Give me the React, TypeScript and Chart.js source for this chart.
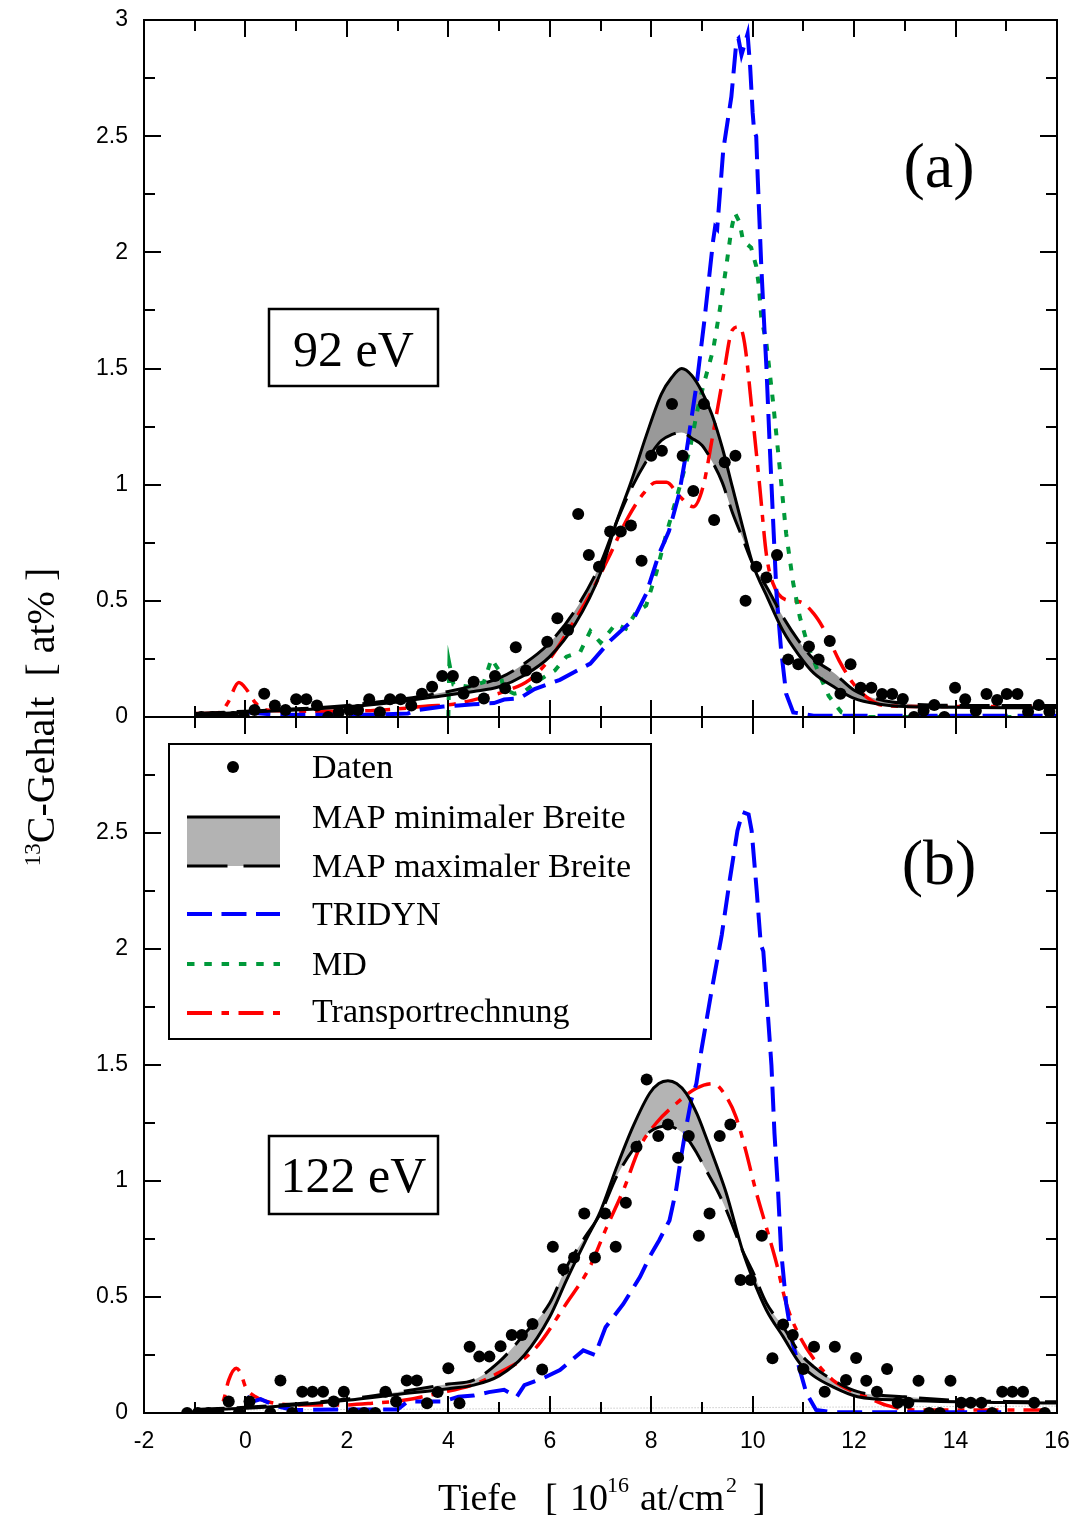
import React, { useEffect, useRef } from 'react';
import { Chart, registerables } from 'chart.js';

Chart.register(...registerables);

// ---------------- axis ticks ----------------
const xTickLabels = [-2, 0, 2, 4, 6, 8, 10, 12, 14, 16];
const xMinorTicks = [-1, 1, 3, 5, 7, 9, 11, 13, 15];
const yTickLabelsTop = [0, 0.5, 1, 1.5, 2, 2.5, 3];
const yTickLabelsBottom = [0, 0.5, 1, 1.5, 2, 2.5];
const yMajorTicks = [0.5, 1, 1.5, 2, 2.5];
const yMinorTicks = [0.25, 0.75, 1.25, 1.75, 2.25, 2.75];

// ---------------- panel (a): 92 eV ----------------
const topDatenX = [-0.87, -0.65, -0.44, -0.24, -0.03, 0.18, 0.37, 0.58, 0.79, 1.0, 1.2, 1.41, 1.63, 1.84, 2.05, 2.22, 2.44, 2.65, 2.85, 3.06, 3.27, 3.48, 3.68, 3.88, 4.09, 4.3, 4.5, 4.7, 4.92, 5.12, 5.33, 5.53, 5.74, 5.95, 6.15, 6.36, 6.56, 6.77, 6.97, 7.19, 7.4, 7.6, 7.81, 8.0, 8.21, 8.41, 8.62, 8.83, 9.04, 9.24, 9.45, 9.66, 9.86, 10.07, 10.27, 10.48, 10.7, 10.9, 11.11, 11.3, 11.52, 11.73, 11.93, 12.13, 12.34, 12.55, 12.75, 12.96, 13.18, 13.37, 13.58, 13.78, 13.99, 14.19, 14.4, 14.61, 14.82, 15.01, 15.22, 15.43, 15.64, 15.85];
const topDatenY = [0, 0, 0, 0, 0, 0.03, 0.1, 0.05, 0.03, 0.076, 0.076, 0.05, 0, 0.02, 0.03, 0.03, 0.076, 0.02, 0.076, 0.076, 0.05, 0.1, 0.13, 0.176, 0.176, 0.1, 0.152, 0.08, 0.176, 0.124, 0.3, 0.2, 0.17, 0.324, 0.425, 0.374, 0.874, 0.697, 0.647, 0.798, 0.798, 0.824, 0.673, 1.124, 1.146, 1.347, 1.124, 0.973, 1.347, 0.848, 1.096, 1.124, 0.5, 0.647, 0.6, 0.697, 0.248, 0.227, 0.303, 0.248, 0.327, 0.1, 0.227, 0.126, 0.126, 0.099, 0.099, 0.077, 0, 0.027, 0.052, 0, 0.126, 0.076, 0.027, 0.099, 0.073, 0.099, 0.099, 0.023, 0.052, 0.023];

const topMapX = [-1, 0, 1, 2, 3, 4, 4.5, 5, 5.5, 6, 6.5, 7, 7.3, 7.6, 7.9, 8.2, 8.4, 8.6, 8.8, 9.0, 9.2, 9.4, 9.6, 9.8, 10.0, 10.3, 10.6, 10.9, 11.2, 11.6, 12.0, 12.5, 13, 14, 15, 16];
const topMapMinY = [0.01, 0.02, 0.03, 0.044, 0.065, 0.095, 0.11, 0.13, 0.18, 0.26, 0.4, 0.62, 0.83, 1.01, 1.21, 1.39, 1.46, 1.5, 1.47, 1.4, 1.3, 1.16, 0.99, 0.82, 0.66, 0.51, 0.37, 0.27, 0.19, 0.13, 0.08, 0.055, 0.045, 0.042, 0.04, 0.04];
const topMapMaxY = [0.015, 0.025, 0.035, 0.05, 0.075, 0.11, 0.135, 0.167, 0.23, 0.32, 0.46, 0.66, 0.83, 0.98, 1.1, 1.19, 1.215, 1.225, 1.2, 1.17, 1.1, 1.01, 0.88, 0.77, 0.66, 0.55, 0.43, 0.33, 0.25, 0.19, 0.115, 0.075, 0.058, 0.05, 0.05, 0.05];

const topTridynX = [0.0, 0.3, 0.6, 1.5, 2.5, 3.2, 3.4, 3.9, 4.2, 4.5, 4.9, 5.1, 5.4, 5.7, 6.2, 6.8, 7.2, 7.65, 7.9, 8.15, 8.35, 8.55, 8.7, 8.9, 9.05, 9.22, 9.26, 9.3, 9.42, 9.58, 9.68, 9.72, 9.78, 9.9, 9.95, 10.0, 10.03, 10.07, 10.1, 10.17, 10.22, 10.27, 10.33, 10.4, 10.47, 10.56, 10.66, 10.8, 11.2, 16];
const topTridynY = [0.02, 0.015, 0.01, 0.01, 0.01, 0.015, 0.03, 0.045, 0.05, 0.055, 0.06, 0.075, 0.08, 0.12, 0.16, 0.23, 0.33, 0.42, 0.53, 0.7, 0.8, 0.96, 1.15, 1.44, 1.71, 2.05, 2.11, 2.1, 2.44, 2.67, 2.91, 2.92, 2.85, 2.94, 2.8, 2.6, 2.52, 2.5, 2.32, 1.94, 1.72, 1.51, 1.2, 0.86, 0.53, 0.29, 0.1, 0.02, 0.005, 0.005];

const topMdX = [4.0, 4.02, 4.1, 4.4, 4.7, 4.85, 5.0, 5.1, 5.3, 5.5, 5.8, 6.1, 6.33, 6.6, 6.8, 7.0, 7.3, 7.5, 7.7, 7.9, 8.1, 8.3, 8.56, 8.76, 8.9, 9.02, 9.22, 9.35, 9.48, 9.58, 9.65, 9.74, 9.81, 9.97, 10.07, 10.12, 10.17, 10.27, 10.4, 10.53, 10.66, 10.8, 10.93, 11.1, 11.3, 11.5, 11.75, 12.0, 15.5];
const topMdY = [0.0, 0.23, 0.14, 0.13, 0.15, 0.25, 0.2, 0.12, 0.1, 0.11, 0.16, 0.2, 0.26, 0.28, 0.37, 0.32, 0.4, 0.38, 0.45, 0.48, 0.62, 0.79, 0.99, 1.15, 1.31, 1.42, 1.58, 1.75, 1.94, 2.1, 2.17, 2.13, 2.05, 2.02, 1.94, 1.86, 1.72, 1.61, 1.36, 1.08, 0.79, 0.575, 0.43, 0.3, 0.19, 0.09, 0.02, 0.0, 0.0];

const topTransX = [-1.0, -0.5, -0.35, -0.13, 0.03, 0.2, 0.42, 1.0, 2.0, 3.0, 3.6, 4.1, 4.7, 5.15, 5.6, 6.0, 6.33, 6.8, 7.19, 7.52, 7.84, 8.1, 8.3, 8.56, 8.83, 9.02, 9.22, 9.42, 9.6, 9.74, 9.84, 10.0, 10.14, 10.27, 10.4, 10.66, 10.93, 11.2, 11.45, 11.7, 11.98, 12.24, 12.57, 13.5, 16];
const topTransY = [0.015, 0.02, 0.06, 0.148, 0.116, 0.06, 0.03, 0.025, 0.025, 0.035, 0.047, 0.055, 0.085, 0.113, 0.16, 0.25, 0.36, 0.53, 0.7, 0.85, 0.96, 1.01, 1.01, 0.95, 0.905, 0.99, 1.22, 1.465, 1.666, 1.68, 1.61, 1.29, 0.99, 0.7, 0.575, 0.504, 0.496, 0.446, 0.36, 0.245, 0.145, 0.087, 0.05, 0.045, 0.045];

// ---------------- panel (b): 122 eV ----------------
const botDatenX = [-1.15, -0.94, -0.73, -0.53, -0.33, -0.13, 0.08, 0.49, 0.69, 0.92, 1.12, 1.32, 1.53, 1.74, 1.94, 2.13, 2.34, 2.56, 2.76, 2.97, 3.18, 3.38, 3.58, 3.79, 4.0, 4.22, 4.42, 4.61, 4.81, 5.03, 5.25, 5.45, 5.66, 5.85, 6.06, 6.27, 6.48, 6.68, 6.89, 7.09, 7.3, 7.5, 7.71, 7.91, 8.14, 8.33, 8.53, 8.74, 8.94, 9.15, 9.35, 9.56, 9.76, 9.96, 10.18, 10.39, 10.6, 10.79, 11.0, 11.21, 11.42, 11.62, 11.84, 12.04, 12.24, 12.45, 12.65, 12.86, 13.07, 13.27, 13.48, 13.69, 13.9, 14.11, 14.3, 14.51, 14.72, 14.92, 15.12, 15.33, 15.55, 15.76];
const botDatenY = [0, 0, 0, 0, 0.05, 0, 0.05, 0, 0.14, 0, 0.092, 0.092, 0.092, 0.05, 0.092, 0, 0, 0, 0.092, 0.05, 0.14, 0.14, 0.042, 0.09, 0.193, 0.042, 0.286, 0.243, 0.243, 0.288, 0.336, 0.336, 0.384, 0.188, 0.717, 0.62, 0.67, 0.86, 0.67, 0.86, 0.717, 0.906, 1.148, 1.438, 1.194, 1.244, 1.1, 1.194, 0.764, 0.86, 1.194, 1.244, 0.573, 0.573, 0.764, 0.236, 0.382, 0.336, 0.19, 0.286, 0.092, 0.286, 0.142, 0.237, 0.139, 0.092, 0.19, 0.044, 0.044, 0.139, 0, 0, 0.139, 0.044, 0.044, 0.044, 0, 0.092, 0.092, 0.092, 0.044, 0];

const botMapX = [-1, 0, 1, 2, 3, 4, 4.5, 5, 5.5, 6, 6.33, 6.7, 7.0, 7.32, 7.64, 7.97, 8.15, 8.33, 8.5, 8.69, 8.9, 9.08, 9.3, 9.48, 9.8, 10.0, 10.27, 10.6, 10.93, 11.2, 11.58, 12.07, 13, 14, 15, 16];
const botMapMinY = [0.012, 0.02, 0.035, 0.055, 0.08, 0.105, 0.12, 0.16, 0.25, 0.415, 0.573, 0.74, 0.87, 1.06, 1.234, 1.378, 1.42, 1.432, 1.42, 1.378, 1.29, 1.19, 1.06, 0.947, 0.7, 0.58, 0.444, 0.329, 0.214, 0.16, 0.113, 0.07, 0.055, 0.048, 0.045, 0.043];
const botMapMaxY = [0.015, 0.025, 0.04, 0.06, 0.09, 0.125, 0.142, 0.22, 0.34, 0.474, 0.63, 0.76, 0.86, 1.02, 1.134, 1.212, 1.232, 1.237, 1.225, 1.19, 1.12, 1.047, 0.96, 0.875, 0.7, 0.61, 0.474, 0.372, 0.258, 0.2, 0.142, 0.092, 0.07, 0.055, 0.05, 0.048];

const botTridynX = [0.03, 0.16, 0.3, 0.6, 0.93, 2.0, 3.0, 3.2, 3.9, 4.2, 4.5, 4.8, 5.1, 5.35, 5.5, 5.87, 6.2, 6.66, 6.89, 7.1, 7.45, 7.78, 7.97, 8.16, 8.36, 8.49, 8.59, 8.69, 8.79, 8.89, 8.99, 9.19, 9.39, 9.55, 9.7, 9.8, 9.92, 9.98, 10.08, 10.16, 10.21, 10.28, 10.37, 10.43, 10.5, 10.56, 10.66, 10.79, 10.93, 11.06, 11.25, 11.6, 14.9];
const botTridynY = [0.07, 0.05, 0.06, 0.03, 0.013, 0.015, 0.015, 0.05, 0.05, 0.07, 0.075, 0.09, 0.1, 0.07, 0.12, 0.15, 0.185, 0.27, 0.25, 0.37, 0.47, 0.587, 0.674, 0.746, 0.83, 0.96, 1.105, 1.234, 1.35, 1.42, 1.565, 1.82, 2.06, 2.3, 2.51, 2.59, 2.58, 2.51, 2.25, 2.02, 1.99, 1.78, 1.5, 1.205, 0.96, 0.7, 0.473, 0.3, 0.185, 0.085, 0.013, 0.003, 0.003];

const botTransX = [-1.0, -0.53, -0.43, -0.33, -0.18, -0.09, 0.0, 0.2, 0.53, 1.18, 1.84, 2.5, 3.15, 3.8, 4.47, 4.96, 5.68, 6.33, 6.79, 7.12, 7.45, 7.78, 8.1, 8.5, 8.89, 9.22, 9.48, 9.67, 9.86, 10.06, 10.27, 10.47, 10.66, 10.93, 11.25, 11.58, 11.98, 12.24, 12.63, 13.2, 16];
const botTransY = [0.006, 0.013, 0.056, 0.142, 0.193, 0.17, 0.113, 0.07, 0.044, 0.034, 0.034, 0.042, 0.056, 0.085, 0.12, 0.17, 0.27, 0.473, 0.63, 0.8, 0.96, 1.148, 1.25, 1.335, 1.4, 1.42, 1.363, 1.277, 1.134, 0.96, 0.8, 0.645, 0.473, 0.329, 0.22, 0.142, 0.092, 0.07, 0.034, 0.013, 0.013];

const botBaselineX = [-1.2, 16];
const botBaselineY = [0.012, 0.03];

// ---------------- styles ----------------
const PAGE_W = 1076;
const PAGE_H = 1520;
const MID_Y = 717;
const TOP_Y = 20;
const BOT_Y = 1413;
const LEFT_X = 144;
const RIGHT_PAD = 19;
const BLUE = '#0000ff';
const GREEN = '#00993a';
const RED = '#ff0000';
const SERIF = '"Liberation Serif", "Times New Roman", serif';
const SANS = '"Liberation Sans", Arial, sans-serif';

const pts = (xs: number[], ys: number[]) => xs.map((x, i) => ({ x, y: ys[i] }));

function drawFrame(chart: any) {
  const { ctx, chartArea: ca, scales } = chart;
  const xs = scales.x;
  const ys = scales.y;
  ctx.save();
  ctx.strokeStyle = '#000';
  ctx.lineWidth = 2;
  ctx.setLineDash([]);
  ctx.strokeRect(ca.left, ca.top, ca.right - ca.left, ca.bottom - ca.top);
  ctx.beginPath();
  const xt = (v: number, len: number) => {
    const p = Math.round(xs.getPixelForValue(v));
    ctx.moveTo(p, ca.bottom);
    ctx.lineTo(p, ca.bottom - len);
    ctx.moveTo(p, ca.top);
    ctx.lineTo(p, ca.top + len);
  };
  const yt = (v: number, len: number) => {
    const p = Math.round(ys.getPixelForValue(v));
    ctx.moveTo(ca.left, p);
    ctx.lineTo(ca.left + len, p);
    ctx.moveTo(ca.right, p);
    ctx.lineTo(ca.right - len, p);
  };
  xTickLabels.slice(1, -1).forEach((v) => xt(v, 17));
  xMinorTicks.forEach((v) => xt(v, 11));
  yMajorTicks.forEach((v) => yt(v, 17));
  yMinorTicks.forEach((v) => yt(v, 11));
  ctx.stroke();
  ctx.restore();
}

function drawLabelBox(ctx: any, text: string, x: number, y: number, w: number, h: number, baseline: number) {
  ctx.save();
  ctx.fillStyle = '#fff';
  ctx.fillRect(x, y, w, h);
  ctx.strokeStyle = '#000';
  ctx.lineWidth = 2.5;
  ctx.strokeRect(x, y, w, h);
  ctx.fillStyle = '#000';
  ctx.font = `50px ${SERIF}`;
  ctx.textAlign = 'center';
  ctx.textBaseline = 'alphabetic';
  ctx.fillText(text, x + w / 2, baseline);
  ctx.restore();
}

function drawPanelLetter(ctx: any, text: string, baseline: number) {
  ctx.save();
  ctx.fillStyle = '#000';
  ctx.font = `64px ${SERIF}`;
  ctx.textAlign = 'center';
  ctx.textBaseline = 'alphabetic';
  ctx.fillText(text, 939, baseline);
  ctx.restore();
}

function drawLegend(ctx: any) {
  ctx.save();
  ctx.fillStyle = '#fff';
  ctx.fillRect(169, 744, 482, 295);
  ctx.strokeStyle = '#000';
  ctx.lineWidth = 2;
  ctx.strokeRect(169, 744, 482, 295);
  const x0 = 187;
  const x1 = 280;
  // Daten
  ctx.fillStyle = '#000';
  ctx.beginPath();
  ctx.arc(233, 767, 6, 0, Math.PI * 2);
  ctx.fill();
  // MAP band
  ctx.fillStyle = '#b3b3b3';
  ctx.fillRect(x0, 817, x1 - x0, 49);
  ctx.lineWidth = 3;
  ctx.strokeStyle = '#000';
  ctx.setLineDash([]);
  ctx.beginPath();
  ctx.moveTo(x0, 817);
  ctx.lineTo(x1, 817);
  ctx.stroke();
  ctx.setLineDash([40.5, 16]);
  ctx.beginPath();
  ctx.moveTo(x0, 866);
  ctx.lineTo(x1, 866);
  ctx.stroke();
  // TRIDYN
  ctx.lineWidth = 4;
  ctx.strokeStyle = BLUE;
  ctx.setLineDash([25, 9.5]);
  ctx.beginPath();
  ctx.moveTo(x0, 914);
  ctx.lineTo(x1, 914);
  ctx.stroke();
  // MD
  ctx.strokeStyle = GREEN;
  ctx.setLineDash([7.5, 9.8]);
  ctx.beginPath();
  ctx.moveTo(x0, 964);
  ctx.lineTo(x1, 964);
  ctx.stroke();
  // Transport
  ctx.strokeStyle = RED;
  ctx.setLineDash([25, 9.5, 7.5, 9.5]);
  ctx.beginPath();
  ctx.moveTo(x0, 1013);
  ctx.lineTo(x1, 1013);
  ctx.stroke();
  ctx.setLineDash([]);
  // texts
  ctx.fillStyle = '#000';
  ctx.font = `34px ${SERIF}`;
  ctx.textAlign = 'left';
  ctx.textBaseline = 'alphabetic';
  const labels = ['Daten', 'MAP minimaler Breite', 'MAP maximaler Breite', 'TRIDYN', 'MD', 'Transportrechnung'];
  const bases = [778, 828, 877, 925, 975, 1022];
  labels.forEach((t, i) => ctx.fillText(t, 312, bases[i]));
  ctx.restore();
}

function drawAxisTitles(ctx: any) {
  ctx.save();
  ctx.fillStyle = '#000';
  ctx.textBaseline = 'alphabetic';
  ctx.textAlign = 'left';
  // x title
  const base = 1510;
  const sup = 1492;
  ctx.font = `38px ${SERIF}`;
  ctx.fillText('Tiefe', 438, base);
  ctx.fillText('[', 545, base);
  ctx.fillText('10', 570, base);
  ctx.fillText('at/cm', 640, base);
  ctx.fillText(']', 753, base);
  ctx.font = `22px ${SERIF}`;
  ctx.fillText('16', 607, sup);
  ctx.fillText('2', 726, sup);
  // y title (rotated)
  ctx.translate(54, 717);
  ctx.rotate(-Math.PI / 2);
  ctx.font = `23px ${SERIF}`;
  const w13 = ctx.measureText('13').width;
  ctx.font = `40px ${SERIF}`;
  const main = 'C-Gehalt  [ at% ]';
  const wMain = ctx.measureText(main).width;
  const start = -(w13 + wMain) / 2;
  ctx.fillText(main, start + w13, 0);
  ctx.font = `23px ${SERIF}`;
  ctx.fillText('13', start, -14);
  ctx.restore();
}

function makeDecor(panel: 'top' | 'bottom') {
  return {
    id: 'decor-' + panel,
    afterDraw(chart: any) {
      const ctx = chart.ctx;
      drawFrame(chart);
      if (panel === 'top') {
        drawLabelBox(ctx, '92 eV', 269, 309, 169, 77, 366);
        drawPanelLetter(ctx, '(a)', 187);
      } else {
        drawLabelBox(ctx, '122 eV', 269, 1136, 169, 78, 1192);
        drawPanelLetter(ctx, '(b)', 884);
        drawLegend(ctx);
        drawAxisTitles(ctx);
      }
    },
  };
}

function buildDatasets(panel: 'top' | 'bottom') {
  const isTop = panel === 'top';
  const ds: any[] = [
    {
      label: 'Daten',
      data: pts(isTop ? topDatenX : botDatenX, isTop ? topDatenY : botDatenY),
      showLine: false,
      pointRadius: 6,
      pointBackgroundColor: '#000',
      pointBorderWidth: 0,
      borderColor: '#000',
    },
    {
      label: 'MAP minimaler Breite',
      data: pts(isTop ? topMapX : botMapX, isTop ? topMapMinY : botMapMinY),
      borderColor: '#000',
      borderWidth: 3,
      pointRadius: 0,
      cubicInterpolationMode: 'monotone',
      fill: '+1',
      backgroundColor: isTop ? '#999999' : '#b4b4b4',
    },
    {
      label: 'MAP maximaler Breite',
      data: pts(isTop ? topMapX : botMapX, isTop ? topMapMaxY : botMapMaxY),
      borderColor: '#000',
      borderWidth: 3,
      borderDash: [30, 12],
      pointRadius: 0,
      cubicInterpolationMode: 'monotone',
      fill: false,
    },
    {
      label: 'TRIDYN',
      data: pts(isTop ? topTridynX : botTridynX, isTop ? topTridynY : botTridynY),
      borderColor: BLUE,
      borderWidth: 4,
      borderDash: [25, 10],
      pointRadius: 0,
      tension: 0,
      fill: false,
    },
  ];
  if (isTop) {
    ds.push({
      label: 'MD',
      data: pts(topMdX, topMdY),
      borderColor: GREEN,
      borderWidth: 4,
      borderDash: [7, 10],
      pointRadius: 0,
      tension: 0,
      fill: false,
    });
  }
  ds.push({
    label: 'Transportrechnung',
    data: pts(isTop ? topTransX : botTransX, isTop ? topTransY : botTransY),
    borderColor: RED,
    borderWidth: 3.5,
    borderDash: [25, 9, 7, 9],
    pointRadius: 0,
    cubicInterpolationMode: 'monotone',
    fill: false,
  });
  if (!isTop) {
    ds.push({
      label: 'baseline',
      data: pts(botBaselineX, botBaselineY),
      borderColor: '#b0b0b0',
      borderWidth: 1,
      borderDash: [1, 2],
      pointRadius: 0,
      fill: false,
    });
  }
  return ds;
}

function makeChart(canvas: HTMLCanvasElement, panel: 'top' | 'bottom') {
  const isTop = panel === 'top';
  const X_AXIS_H = isTop ? 0 : 60;
  return new Chart(canvas, {
    type: 'line',
    data: { datasets: buildDatasets(panel) },
    options: {
      responsive: false,
      animation: false,
      devicePixelRatio: 1,
      events: [],
      layout: {
        padding: isTop
          ? { left: 0, right: RIGHT_PAD, top: TOP_Y, bottom: PAGE_H - MID_Y }
          : { left: 0, right: RIGHT_PAD, top: MID_Y, bottom: PAGE_H - BOT_Y - X_AXIS_H },
      },
      scales: {
        x: {
          type: 'linear',
          min: -2,
          max: 16,
          position: 'bottom',
          display: !isTop,
          afterFit: (s: any) => {
            s.height = X_AXIS_H;
            s.paddingLeft = 0;
            s.paddingRight = 0;
            s.paddingTop = 0;
            s.paddingBottom = 0;
          },
          afterBuildTicks: (s: any) => {
            s.ticks = xTickLabels.map((v) => ({ value: v }));
          },
          ticks: {
            color: '#000',
            font: { family: SANS, size: 23 },
            padding: 15,
            maxRotation: 0,
            autoSkip: false,
            callback: (v: any) => String(v),
          },
          grid: { display: false, drawTicks: false },
          border: { display: false },
        },
        y: {
          type: 'linear',
          min: 0,
          max: 3,
          position: 'left',
          afterFit: (s: any) => {
            s.width = LEFT_X;
            s.paddingLeft = 0;
            s.paddingRight = 0;
            s.paddingTop = 0;
            s.paddingBottom = 0;
          },
          afterBuildTicks: (s: any) => {
            s.ticks = (isTop ? yTickLabelsTop : yTickLabelsBottom).map((v) => ({ value: v }));
          },
          ticks: {
            color: '#000',
            font: { family: SANS, size: 23 },
            padding: 16,
            autoSkip: false,
            callback: (v: any) => String(v),
          },
          grid: { display: false, drawTicks: false },
          border: { display: false },
        },
      },
      plugins: {
        legend: { display: false },
        tooltip: { enabled: false },
        filler: { drawTime: 'beforeDatasetsDraw' },
      } as any,
    },
    plugins: [makeDecor(panel)],
  } as any);
}

export default function App() {
  const topRef = useRef<HTMLCanvasElement | null>(null);
  const botRef = useRef<HTMLCanvasElement | null>(null);

  useEffect(() => {
    const c1 = makeChart(topRef.current as HTMLCanvasElement, 'top');
    const c2 = makeChart(botRef.current as HTMLCanvasElement, 'bottom');
    return () => {
      c1.destroy();
      c2.destroy();
    };
  }, []);

  const canvasStyle: React.CSSProperties = {
    position: 'absolute',
    left: 0,
    top: 0,
    width: PAGE_W,
    height: PAGE_H,
    display: 'block',
  };

  return (
    <div style={{ position: 'absolute', left: 0, top: 0, width: PAGE_W, height: PAGE_H, background: '#fff', overflow: 'hidden' }}>
      <canvas ref={topRef} width={PAGE_W} height={PAGE_H} style={canvasStyle} />
      <canvas ref={botRef} width={PAGE_W} height={PAGE_H} style={canvasStyle} />
    </div>
  );
}
